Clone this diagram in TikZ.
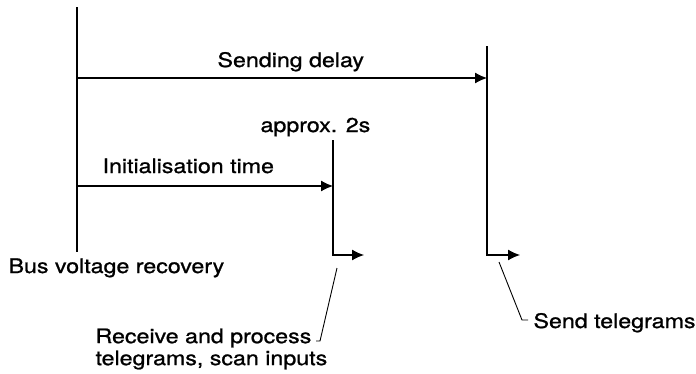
\documentclass[tikz,border=0pt]{standalone}
\usepackage{fontspec}
\setmainfont[FakeStretch=1.16,FakeBold=1]{TeX Gyre Heros}
\usepackage{tikz}
\usetikzlibrary{arrows.meta}

\begin{document}
\begin{tikzpicture}[x=1pt,y=-1pt,line width=1.1pt,
		lab/.style={anchor=base west,inner sep=0pt,font=\fontsize{20}{22}\selectfont},
		tim/.style={-{Latex[length=12pt,width=11pt]}},
		lead/.style={line width=0.9pt}]
	\useasboundingbox (0,0) rectangle (696,373);
	% time marks
	\coordinate (r0) at (77,7);     \coordinate (r1) at (77,252);
	\coordinate (i0) at (333,140);  \coordinate (i1) at (333,255);
	\coordinate (d0) at (487,46);   \coordinate (d1) at (487,255);
	\coordinate (ie) at (364,255);  \coordinate (de) at (520,255);
	% labels
	\node[lab] (delay) at (217,67) {Sending delay};
	\node[lab] (approx) at (260,132) {approx. 2s};
	\node[lab] (init) at (102,173) {Initialisation time};
	\node[lab] (bus) at (8,273) {Bus voltage recovery};
	\node[lab,align=left,anchor=north west] (recv) at (95,328) {Receive and process\\telegrams, scan inputs};
	\node[lab] (send) at (533,328) {Send telegrams};
	% lines
	\draw (r0) -- (r1);
	\draw[tim] (i0) -- (i1) -- (ie);
	\draw[tim] (d0) -- (d1) -- (de);
	\draw[tim] (r0 |- 0,78) -- (d0 |- 0,78);
	\draw[tim] (r0 |- 0,186) -- (i0 |- 0,186);
	% leaders
	\coordinate (rk) at (320,341);  \coordinate (sk) at (522,320);
	\draw[lead] (337,268) -- (rk) -- ++(-4,0);
	\draw[lead] (499,262) -- (sk) -- ++(6,0);
\end{tikzpicture}
\end{document}
